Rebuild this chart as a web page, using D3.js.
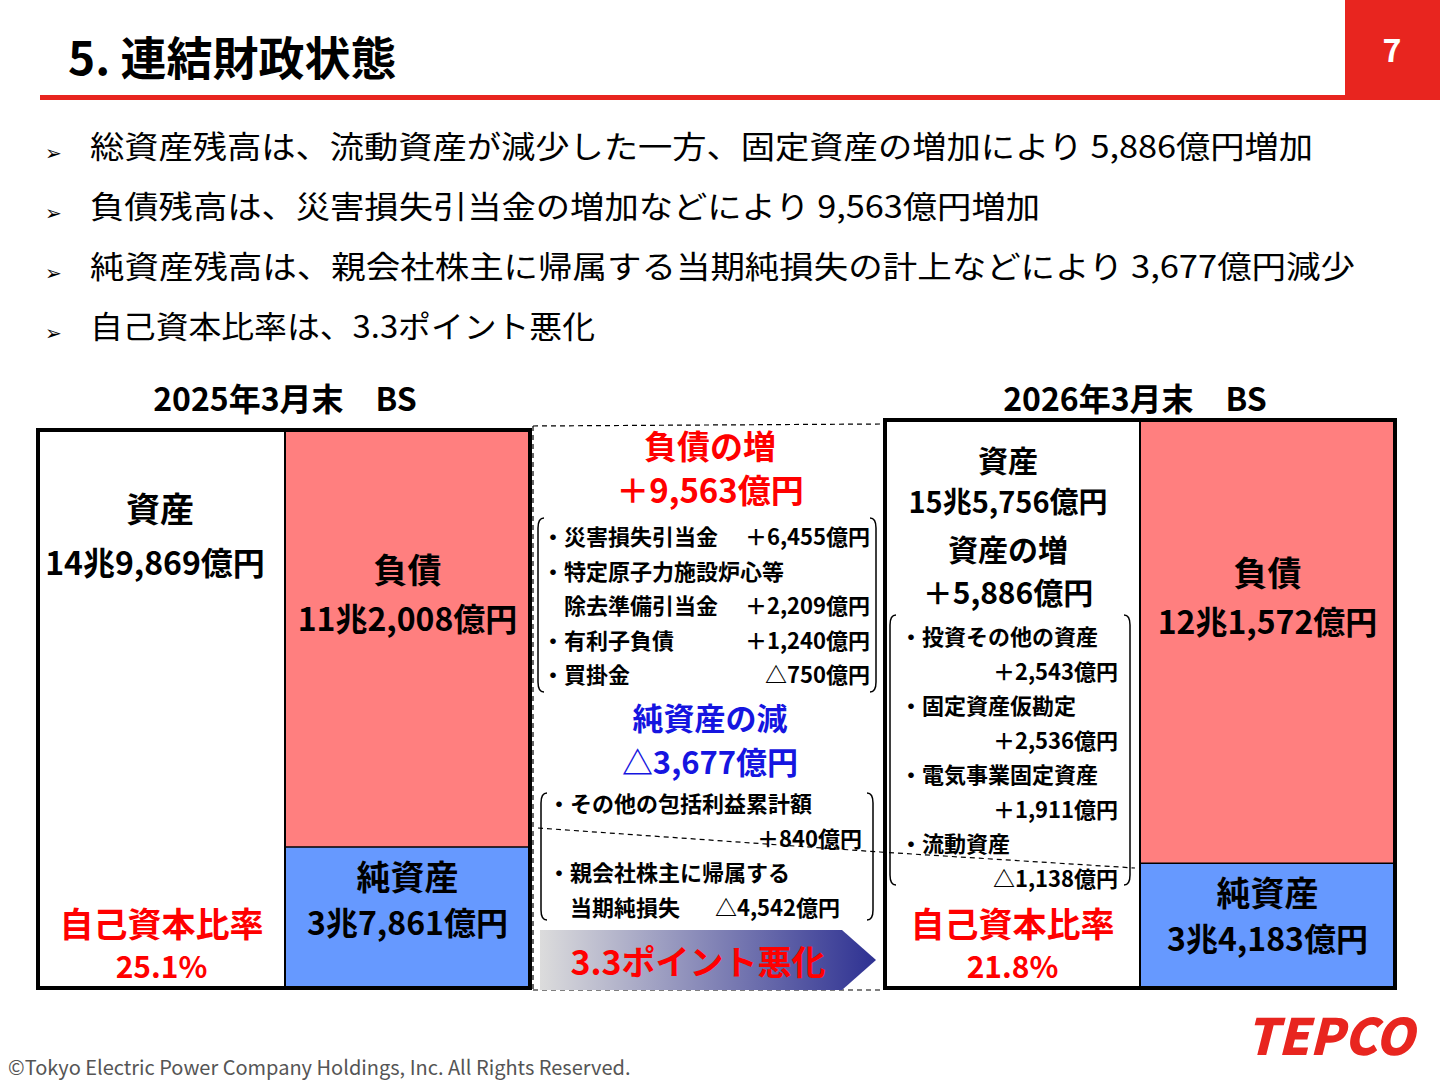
<!DOCTYPE html><html><head><meta charset="utf-8">
<script src="https://cdn.jsdelivr.net/npm/d3@7"></script>
<style>body{margin:0;background:#fff}text{font-family:"Noto Sans CJK JP","Noto Sans",sans-serif}</style></head><body>
<svg id="c" width="1440" height="1080"></svg>
<script>
const periods=["2025年3月末　BS","2026年3月末　BS"];
const totals=[149869,155756];
const liabilities=[112008,121572];
const netAssets=[37861,34183];
const totalLabels=["14兆9,869億円","15兆5,756億円"];
const liabLabels=["11兆2,008億円","12兆1,572億円"];
const netLabels=["3兆7,861億円","3兆4,183億円"];
const equityRatios=["25.1%","21.8%"];
const bullets=["総資産残高は、流動資産が減少した一方、固定資産の増加により 5,886億円増加","負債残高は、災害損失引当金の増加などにより 9,563億円増加","純資産残高は、親会社株主に帰属する当期純損失の計上などにより 3,677億円減少","自己資本比率は、3.3ポイント悪化"];
const bulletWidths=[1223,950,1265,505];
const liabItems=[["・災害損失引当金","＋6,455億円"],["・特定原子力施設炉心等",""],["　除去準備引当金","＋2,209億円"],["・有利子負債","＋1,240億円"],["・買掛金","△750億円"]];
const netItems=[["・その他の包括利益累計額",""],["","＋840億円"],["・親会社株主に帰属する",""],["　当期純損失",""]];
const assetItems=[["・投資その他の資産",""],["","＋2,543億円"],["・固定資産仮勘定",""],["","＋2,536億円"],["・電気事業固定資産",""],["","＋1,911億円"],["・流動資産",""],["","△1,138億円"]];

const svg=d3.select("#c");
const T=(x,y,s,o={})=>svg.append("text").attr("x",x).attr("y",y).text(s)
 .attr("font-size",o.size||24).attr("font-weight",o.w||"bold").attr("fill",o.fill||"#000")
 .attr("text-anchor",o.a||"start");
svg.append("rect").attr("x",1345).attr("y",0).attr("width",95).attr("height",97).attr("fill","#e8251f");
T(1392,62,"7",{size:32,fill:"#fff",a:"middle"});
T(68,75,"5.  連結財政状態",{size:46});
svg.append("rect").attr("x",40).attr("y",95).attr("width",1400).attr("height",5).attr("fill","#e8251f");
bullets.forEach((b,i)=>{T(45,160+i*60,"➢",{size:20,w:"normal"});
 T(90,158+i*60,b,{size:31,w:"normal"}).attr("textLength",bulletWidths[i]).attr("lengthAdjust","spacingAndGlyphs");});

const boxes=[{x0:38,xm:285,x1:530,top:430},{x0:885,xm:1140,x1:1395,top:420}];
const bottom=988;
boxes.forEach((b,i)=>{
 const y=d3.scaleLinear().domain([0,totals[i]]).range([bottom,b.top]);
 const netTop=y(netAssets[i]);
 svg.append("rect").attr("x",b.xm).attr("y",y(totals[i])).attr("width",b.x1-b.xm).attr("height",netTop-y(totals[i])).attr("fill","#ff7f7f");
 svg.append("rect").attr("x",b.xm).attr("y",netTop).attr("width",b.x1-b.xm).attr("height",bottom-netTop).attr("fill","#6699ff");
 svg.append("line").attr("x1",b.xm).attr("x2",b.x1).attr("y1",netTop).attr("y2",netTop).attr("stroke","#000").attr("stroke-width",1.5);
 svg.append("line").attr("x1",b.xm).attr("x2",b.xm).attr("y1",b.top).attr("y2",bottom).attr("stroke","#000").attr("stroke-width",2);
 svg.append("rect").attr("x",b.x0).attr("y",b.top).attr("width",b.x1-b.x0).attr("height",bottom-b.top).attr("fill","none").attr("stroke","#000").attr("stroke-width",4);
 const cl=(b.x0+b.xm)/2, cr=(b.xm+b.x1)/2;
 T(i?1135:285,411,periods[i],{size:32,a:"middle"});
 const ly=(y(totals[i])+netTop)/2;
 T(cr,ly-56,"負債",{size:34,a:"middle"});
 T(cr,ly-8,liabLabels[i],{size:32,a:"middle"});
 T(cr,netTop+43,"純資産",{size:34,a:"middle"});
 T(cr,netTop+88,netLabels[i],{size:32,a:"middle"});
 T(cl,937,"自己資本比率",{size:34,a:"middle",fill:"#f00"});
 T(cl,978,equityRatios[i],{size:30,a:"middle",fill:"#f00"});
});
T(160,522,"資産",{size:34,a:"middle"});
T(155,575,totalLabels[0],{size:32,a:"middle"});
T(1008,472,"資産",{size:30,a:"middle"});
T(1008,513,totalLabels[1],{size:29,a:"middle"});
T(1008,561,"資産の増",{size:30,a:"middle"});
T(1008,604,"＋5,886億円",{size:30,a:"middle"});
assetItems.forEach((r,k)=>{const yy=645+k*34.5; if(r[0])T(900,yy,r[0],{size:22}); if(r[1])T(1118,yy,r[1],{size:22,a:"end"});});

const dash={stroke:"#000","stroke-dasharray":"5,4","stroke-width":1.2};
const L=(x1,y1,x2,y2,s)=>{const l=svg.append("line").attr("x1",x1).attr("y1",y1).attr("x2",x2).attr("y2",y2);Object.entries(s).forEach(([k,v])=>l.attr(k,v));return l;};
L(533,426,880,424,dash);L(533,990,880,990,dash);L(533,426,533,990,dash);
L(538,828,880,852,dash);L(880,852,1135,868,dash);
T(710,459,"負債の増",{size:33,a:"middle",fill:"#f00"});
T(710,503,"＋9,563億円",{size:33,a:"middle",fill:"#f00"});
liabItems.forEach((r,k)=>{const yy=545+k*34.5;T(542,yy,r[0],{size:22});if(r[1])T(870,yy,r[1],{size:22,a:"end"});});
T(710,730,"純資産の減",{size:31,a:"middle",fill:"#1515e0"});
T(710,774,"△3,677億円",{size:31,a:"middle",fill:"#1515e0"});
netItems.forEach((r,k)=>{const yy=812+k*34.5;if(r[0])T(548,yy,r[0],{size:22});if(r[1])T(862,yy,r[1],{size:22,a:"end"});});
T(840,916,"△4,542億円",{size:22,a:"end"});
const br=(x,y1,y2,dir)=>svg.append("path").attr("d",`M${x+dir*6},${y1} Q${x},${y1} ${x},${y1+10} L${x},${y2-10} Q${x},${y2} ${x+dir*6},${y2}`).attr("fill","none").attr("stroke","#000").attr("stroke-width",1.5);
br(538,518,692,1);br(876,518,692,-1);br(541,793,920,1);br(873,793,920,-1);br(890,615,885,1);br(1130,615,885,-1);
const g=svg.append("defs").append("linearGradient").attr("id","gr");
g.append("stop").attr("offset","0").attr("stop-color","#dcdcdc");g.append("stop").attr("offset","1").attr("stop-color","#2e3192");
svg.append("path").attr("d","M540,930 L842,930 L876,960 L842,990 L540,990 Z").attr("fill","url(#gr)");
T(698,975,"3.3ポイント悪化",{size:34,a:"middle",fill:"#f00"});
T(8,1075,"©Tokyo Electric Power Company Holdings, Inc. All Rights Reserved.",{size:20,w:"normal",fill:"#555"});
T(1330,1055,"TEPCO",{size:50,w:"900",fill:"#e8251f",a:"middle"}).attr("font-style","italic").attr("font-family","Liberation Sans");
</script></body></html>
